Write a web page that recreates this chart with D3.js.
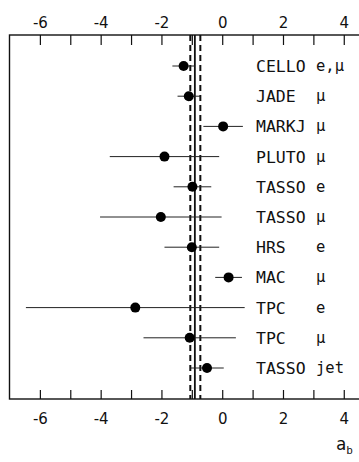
<!DOCTYPE html>
<html>
<head>
<meta charset="utf-8">
<script src="https://cdn.jsdelivr.net/npm/d3@7"></script>
<style>
  html, body { margin: 0; padding: 0; background: #fff; }
  svg { display: block; }
  .tick text { font-family: "DejaVu Sans", sans-serif; font-size: 15px; fill: #111; }
  .lab { font-family: "DejaVu Sans Mono", monospace; font-size: 16.5px; fill: #111; }
  .chan { font-family: "DejaVu Sans Mono", monospace; font-size: 15.5px; fill: #111; }
</style>
</head>
<body>
<script>
// Forward-backward asymmetry a_b measurements by experiment
const experiments = ["CELLO", "JADE", "MARKJ", "PLUTO", "TASSO", "TASSO", "HRS", "MAC", "TPC", "TPC", "TASSO"];
const channels    = ["e,\u03bc", "\u03bc", "\u03bc", "\u03bc", "e", "\u03bc", "e", "\u03bc", "e", "\u03bc", "jet"];
const values      = [-1.27, -1.10, 0.03, -1.90, -0.98, -2.02, -1.00, 0.21, -2.86, -1.07, -0.50];
const errors      = [0.37, 0.37, 0.65, 1.80, 0.62, 2.00, 0.90, 0.44, 3.60, 1.52, 0.55];
const bandCentre  = -0.90;
const bandLimits  = [-1.05, -0.72];
const tickValues  = [-6, -5, -4, -3, -2, -1, 0, 1, 2, 3, 4];
const tickLabels  = [-6, -4, -2, 0, 2, 4];
const axisTitle   = "a";
const axisSub     = "b";

const W = 359, H = 462;
const plotTop = 35, plotBottom = 399, plotLeft = 9.5, plotRight = 362;

const svg = d3.select("body").append("svg").attr("width", W).attr("height", H);

const x = d3.scaleLinear().domain([-7, 4.6]).range([plotLeft, plotRight]);
const y = d3.scalePoint().domain(d3.range(experiments.length)).range([66, 368]);

// frame
svg.append("rect")
  .attr("x", plotLeft).attr("y", plotTop)
  .attr("width", plotRight - plotLeft).attr("height", plotBottom - plotTop)
  .attr("fill", "none").attr("stroke", "#111").attr("stroke-width", 1.4);

const fmt = d => tickLabels.includes(d) ? String(d) : "";

const topAxis = d3.axisTop(x).tickValues(tickValues).tickSize(-10).tickPadding(7).tickFormat(fmt);
const botAxis = d3.axisBottom(x).tickValues(tickValues).tickSize(-9).tickPadding(14).tickFormat(fmt);

const gt = svg.append("g").attr("transform", `translate(0,${plotTop})`).call(topAxis);
const gb = svg.append("g").attr("transform", `translate(0,${plotBottom})`).call(botAxis);
[gt, gb].forEach(g => {
  g.select(".domain").remove();
  g.selectAll(".tick line").attr("stroke", "#111").attr("stroke-width", 1.2);
});

// average band: solid centre line with dashed limits
svg.append("line")
  .attr("x1", x(bandCentre)).attr("x2", x(bandCentre))
  .attr("y1", plotTop).attr("y2", plotBottom)
  .attr("stroke", "#111").attr("stroke-width", 1.8);
svg.selectAll(".band").data(bandLimits).join("line")
  .attr("class", "band")
  .attr("x1", d => x(d)).attr("x2", d => x(d))
  .attr("y1", plotTop).attr("y2", plotBottom)
  .attr("stroke", "#111").attr("stroke-width", 2)
  .attr("stroke-dasharray", "6,4");

// error bars
svg.selectAll(".err").data(values).join("line")
  .attr("class", "err")
  .attr("x1", (d, i) => x(d - errors[i])).attr("x2", (d, i) => x(d + errors[i]))
  .attr("y1", (d, i) => y(i)).attr("y2", (d, i) => y(i))
  .attr("stroke", "#222").attr("stroke-width", 1);

// central values
svg.selectAll(".pt").data(values).join("circle")
  .attr("class", "pt")
  .attr("cx", d => x(d)).attr("cy", (d, i) => y(i))
  .attr("r", 5).attr("fill", "#000");

// experiment and channel labels
svg.selectAll(".lab").data(experiments).join("text")
  .attr("class", "lab")
  .attr("x", 256).attr("y", (d, i) => y(i) + 6)
  .text(d => d);
svg.selectAll(".chan").data(channels).join("text")
  .attr("class", "chan")
  .attr("x", 316).attr("y", (d, i) => y(i) + 5)
  .text(d => d);

// axis title a_b
const t = svg.append("text").attr("x", 336).attr("y", 450)
  .attr("font-family", "DejaVu Sans Mono, monospace").attr("font-size", 17).attr("fill", "#111");
t.append("tspan").text(axisTitle);
t.append("tspan").attr("font-size", 11).attr("dy", 4).text(axisSub);
</script>
</body>
</html>
